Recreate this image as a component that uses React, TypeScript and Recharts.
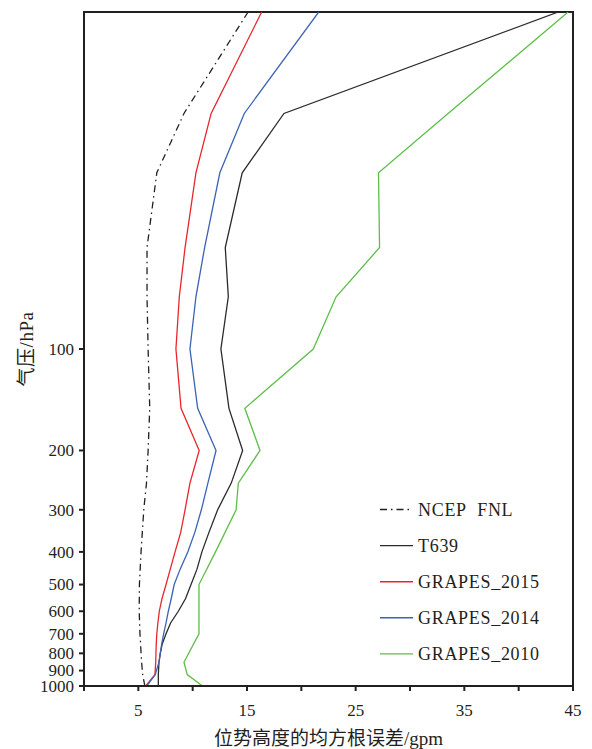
import React from "react";
import { LineChart, Line, XAxis, YAxis, ReferenceArea, Legend } from "recharts";

const FONT = "'Liberation Serif', 'DejaVu Serif', 'Times New Roman', serif";
const INK = "#231f20";

// pressure levels (hPa)
const stdLevels = [1000, 925, 850, 700, 600, 500, 400, 300, 250, 200, 150, 100, 70, 50, 30, 20, 10];
const fineLevels = [1000, 925, 850, 800, 750, 700, 650, 600, 550, 500, 450, 400, 350, 300, 250, 200, 150, 100, 70, 50, 30, 20, 10];

// RMSE of geopotential height (gpm)
const ncepFnl = [5.6, 5.4, 5.3, 5.15, 5.08, 5.1, 5.25, 5.5, 5.75, 5.9, 6.05, 5.9, 5.8, 5.8, 6.7, 9.2, 15.1];
const t639 = [6.84, 6.84, 6.9, 7.02, 7.2, 7.55, 7.97, 8.68, 9.35, 9.85, 10.4, 10.85, 11.5, 12.3, 13.55, 14.6, 13.34, 12.6, 13.28, 13.0, 14.56, 18.4, 43.65];
const grapes2015 = [5.68, 6.53, 6.6, 6.62, 6.65, 6.7, 6.8, 6.93, 7.18, 7.55, 7.94, 8.38, 8.9, 9.3, 9.75, 10.6, 8.93, 8.46, 8.77, 9.3, 10.3, 11.7, 16.35];
const grapes2014 = [5.77, 6.55, 6.9, 7.02, 7.15, 7.33, 7.55, 7.76, 8.03, 8.3, 8.85, 9.55, 10.2, 10.8, 11.4, 12.15, 10.46, 9.75, 10.3, 11.1, 12.5, 14.75, 21.6];
const grapes2010 = [10.9, 9.5, 9.2, 10.58, 10.58, 10.58, 12.1, 14.0, 14.2, 16.2, 14.8, 21.1, 23.2, 27.2, 27.1, 33.5, 44.55];

const xTicks = [0, 5, 10, 15, 20, 25, 30, 35, 40, 45];
const xLabelTicks = [5, 15, 25, 35, 45];
const pressureTicks = [100, 200, 300, 400, 500, 600, 700, 800, 900, 1000];

const toPoints = (levels: number[], values: number[]) => levels.map((p, i) => ({ p, v: values[i] }));

const series = [
  { name: "NCEP\u00A0\u00A0FNL", color: INK, dash: "7 4 1.5 4", data: toPoints(stdLevels, ncepFnl) },
  { name: "T639", color: "#2b2b2b", dash: undefined, data: toPoints(fineLevels, t639) },
  { name: "GRAPES_2015", color: "#e8262b", dash: undefined, data: toPoints(fineLevels, grapes2015) },
  { name: "GRAPES_2014", color: "#3b63b5", dash: undefined, data: toPoints(fineLevels, grapes2014) },
  { name: "GRAPES_2010", color: "#5cbf47", dash: undefined, data: toPoints(stdLevels, grapes2010) },
];

const XTick = (props: any) => {
  const { x, y, payload } = props;
  if (!xLabelTicks.includes(payload.value)) return <g />;
  return (
    <text x={x} y={y} dy="0.71em" textAnchor="middle" style={{ fontFamily: FONT, fontSize: 17 }} fill={INK}>
      {payload.value}
    </text>
  );
};

const YTick = (props: any) => {
  const { x, y, payload } = props;
  return (
    <text x={x} y={y} dy="0.34em" textAnchor="end" style={{ fontFamily: FONT, fontSize: 17 }} fill={INK}>
      {payload.value}
    </text>
  );
};

const renderLegend = () => (
  <svg width={190} height={180}>
    {series.map((s, i) => {
      const cy = 19.5 + i * 36.1;
      return (
        <g key={s.name}>
          <line x1={2} x2={35} y1={cy} y2={cy} stroke={s.color} strokeWidth={1.4} strokeDasharray={s.dash} />
          <text x={40} y={cy} dy="0.35em" style={{ fontFamily: FONT, fontSize: 18, letterSpacing: 0.7 }} fill={INK}>
            {s.name}
          </text>
        </g>
      );
    })}
  </svg>
);

export default function App() {
  return (
    <div style={{ position: "absolute", left: 0, top: 0, width: 592, height: 749, background: "#fff" }}>
      <LineChart layout="vertical" width={592} height={749} margin={{ top: 12, right: 19, bottom: 0, left: 0 }}>
        <ReferenceArea x1={0} x2={45} y1={10} y2={1000} fill="none" fillOpacity={0} stroke={INK} strokeWidth={2} ifOverflow="visible" />
        <XAxis
          type="number"
          dataKey="v"
          domain={[0, 45]}
          ticks={xTicks}
          interval={0}
          allowDataOverflow
          height={63}
          tickSize={5}
          tickMargin={13}
          stroke={INK}
          strokeWidth={2}
          tick={<XTick />}
          label={(props: any) => {
            const vb = props.viewBox;
            return (
              <text x={vb.x + vb.width / 2} y={738} dy="0.35em" textAnchor="middle" style={{ fontFamily: FONT + ", 'Noto Sans CJK SC'", fontSize: 19 }} fill={INK}>
                位势高度的均方根误差/gpm
              </text>
            );
          }}
        />
        <YAxis
          type="number"
          dataKey="p"
          scale="log"
          domain={[10, 1000]}
          ticks={pressureTicks}
          interval={0}
          allowDataOverflow
          width={84}
          tickSize={5}
          tickMargin={5}
          stroke={INK}
          strokeWidth={2}
          tick={<YTick />}
          label={(props: any) => {
            const vb = props.viewBox;
            const cy = vb.y + vb.height / 2;
            return (
              <text x={26} y={cy} dy="0.35em" textAnchor="middle" transform={`rotate(-90 26 ${cy})`} style={{ fontFamily: FONT + ", 'Noto Sans CJK SC'", fontSize: 19, letterSpacing: 0.5 }} fill={INK}>
                气压/hPa
              </text>
            );
          }}
        />
        <Legend layout="vertical" align="center" verticalAlign="middle" content={renderLegend} wrapperStyle={{ left: 378, top: 490, width: 190, height: 180 }} />
        {series.map((s) => (
          <Line
            key={s.name}
            name={s.name}
            data={s.data}
            dataKey="v"
            type="linear"
            stroke={s.color}
            strokeWidth={1.3}
            strokeDasharray={s.dash}
            dot={false}
            activeDot={false}
            isAnimationActive={false}
          />
        ))}
      </LineChart>
    </div>
  );
}
